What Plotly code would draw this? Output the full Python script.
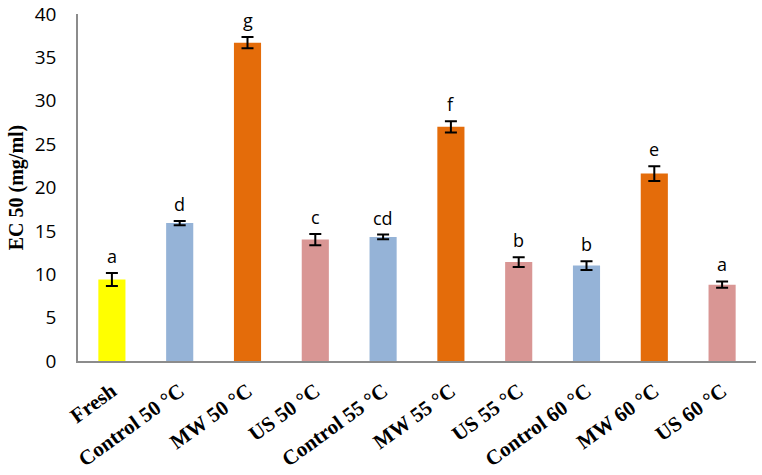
import plotly.graph_objects as go

categories = ["Fresh", "Control 50 °C", "MW 50 °C", "US 50 °C", "Control 55 °C",
              "MW 55 °C", "US 55 °C", "Control 60 °C", "MW 60 °C", "US 60 °C"]
values = [9.4, 15.9, 36.7, 14.0, 14.3, 27.0, 11.4, 11.0, 21.6, 8.8]
errors = [0.75, 0.25, 0.65, 0.65, 0.27, 0.65, 0.55, 0.5, 0.85, 0.37]
letters = ["a", "d", "g", "c", "cd", "f", "b", "b", "e", "a"]
colors = ["#FFFF00", "#95B3D7", "#E46C0A", "#D99694", "#95B3D7",
          "#E46C0A", "#D99694", "#95B3D7", "#E46C0A", "#D99694"]
y_ticks = [0, 5, 10, 15, 20, 25, 30, 35, 40]

fig = go.Figure()
fig.add_trace(go.Bar(
    x=categories, y=values, marker=dict(color=colors, line=dict(width=0)),
    width=0.4,
    error_y=dict(type="data", array=errors, color="black", thickness=2, width=6),
    showlegend=False,
))
for c, v, e, t in zip(categories, values, errors, letters):
    fig.add_annotation(x=c, y=v + e, text=t, showarrow=False, yanchor="bottom",
                       yshift=3, font=dict(family="Open Sans, sans-serif", size=18, color="black"))

fig.update_layout(
    width=762, height=475,
    margin=dict(l=78, r=6, t=14, b=114),
    plot_bgcolor="white", paper_bgcolor="white",
    xaxis=dict(showline=True, linecolor="#8c8c8c", linewidth=1.5,
               ticks="outside", ticklen=8, tickcolor="rgba(0,0,0,0)",
               tickangle=-36, automargin=False,
               tickfont=dict(family="Liberation Serif, serif", size=21, color="black",
                             weight="bold")),
    yaxis=dict(range=[0, 40], tickvals=y_ticks, showline=True, linecolor="#8c8c8c",
               linewidth=1.5, showgrid=False, zeroline=False,
               ticks="outside", ticklen=16, tickcolor="rgba(0,0,0,0)",
               automargin=False,
               tickfont=dict(family="Open Sans, sans-serif", size=19, color="black"),
               title=dict(text="<b>EC 50 (mg/ml)</b>",
                          font=dict(family="Liberation Serif, serif", size=20, color="black"),
                          standoff=6)),
)
fig.write_html("out.html", config={"displayModeBar": False},
               post_script="document.body.style.margin='0';")
